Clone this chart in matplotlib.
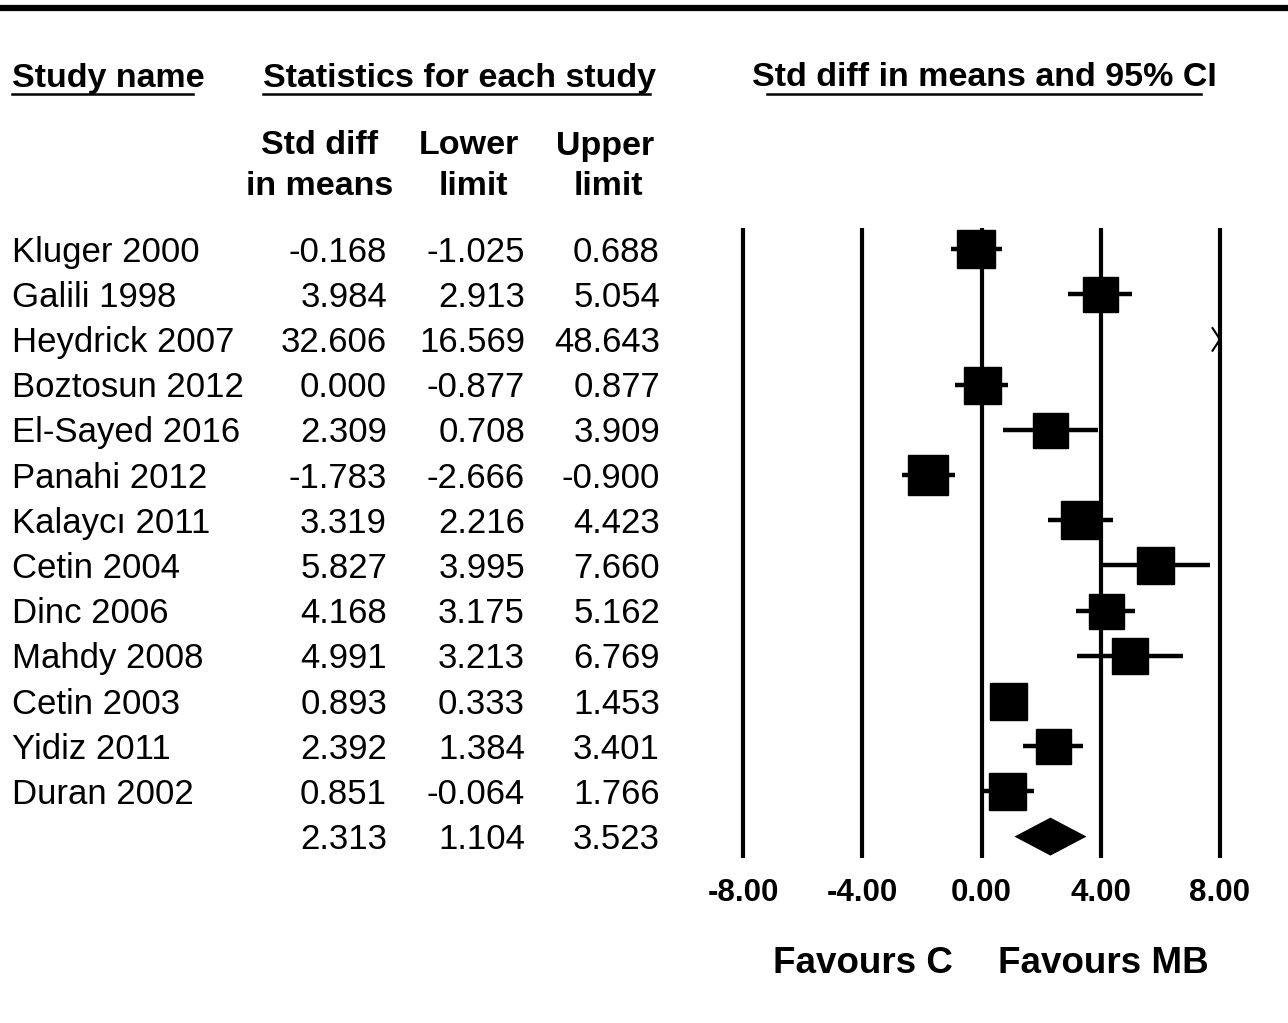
import matplotlib; matplotlib.use("Agg")
import matplotlib.pyplot as plt
import matplotlib.transforms as mtransforms
from matplotlib.lines import Line2D

plt.rcParams["font.family"] = ["Liberation Sans", "DejaVu Sans"]

studies = ["Kluger 2000", "Galili 1998", "Heydrick 2007", "Boztosun 2012", "El-Sayed 2016",
           "Panahi 2012", "Kalaycı 2011", "Cetin 2004", "Dinc 2006", "Mahdy 2008",
           "Cetin 2003", "Yidiz 2011", "Duran 2002"]
smd = [-0.168, 3.984, 32.606, 0.000, 2.309, -1.783, 3.319, 5.827, 4.168, 4.991, 0.893, 2.392, 0.851]
lower = [-1.025, 2.913, 16.569, -0.877, 0.708, -2.666, 2.216, 3.995, 3.175, 3.213, 0.333, 1.384, -0.064]
upper = [0.688, 5.054, 48.643, 0.877, 3.909, -0.900, 4.423, 7.660, 5.162, 6.769, 1.453, 3.401, 1.766]
box_px = [38, 35, 0, 37, 35, 40, 38, 37, 35, 36, 37, 35, 37]   # relative weights (square size)
pooled = (2.313, 1.104, 3.523)
ticks = [-8, -4, 0, 4, 8]

W, H = 1288, 1023
fig = plt.figure(figsize=(W / 100, H / 100), dpi=100)
ax = fig.add_axes([743 / W, 0, 477 / W, 1])
ax.set_xlim(-8, 8)
ax.set_ylim(17.124, -5.509)
ax.axis("off")
xmin, xmax = ax.get_xlim()
dy = 0.07  # nudge text down a touch (va=center includes descenders)

# vertical reference lines
for t in ticks:
    ax.plot([t, t], [-0.46, 13.47], color="k", lw=3, clip_on=False, solid_capstyle="butt")
    ax.text(t, 14.18 + dy, f"{t:.2f}", ha="center", va="center", fontsize=22.5, fontweight="bold")

# study rows
for i, (m, lo, hi, s) in enumerate(zip(smd, lower, upper, box_px)):
    if lo > xmax:
        ax.plot([xmax - 0.25, xmax, xmax - 0.25], [i - 0.25, i, i + 0.25], color="k", lw=1.5, clip_on=False)
        continue
    ax.plot([max(lo, xmin), min(hi, xmax)], [i, i], color="k", lw=3.2, solid_capstyle="butt", zorder=3)
    ax.plot([m], [i], marker="s", ms=s * 0.72, color="k", mec="k", zorder=4)

# pooled diamond
n = len(studies)
pm, pl, pu = pooled
ax.fill([pl, pm, pu, pm], [n, n - 0.42, n, n + 0.42], color="k", lw=0, zorder=4)

ax.text(-0.95, 15.73 + dy, "Favours C", ha="right", va="center", fontsize=26.5, fontweight="bold")
ax.text(0.55, 15.73 + dy, "Favours MB", ha="left", va="center", fontsize=26.5, fontweight="bold")

# table text
tr = mtransforms.blended_transform_factory(fig.transFigure, ax.transData)
fs = 25
for i, name in enumerate(studies + [""]):
    vals = (smd[i], lower[i], upper[i]) if i < n else pooled
    ax.text(12 / W, i + dy, name, transform=tr, ha="left", va="center", fontsize=fs)
    for xr, v in zip((387, 525, 660), vals):
        ax.text(xr / W, i + dy, f"{v:.3f}", transform=tr, ha="right", va="center", fontsize=fs)

# headers (pixel positions)
def ftext(x, y, s, **kw):
    fig.text(x / W, 1 - y / H, s, fontsize=24.5, fontweight="bold", va="center", **kw)

ftext(12, 78, "Study name", ha="left")
ftext(263, 78, "Statistics for each study", ha="left")
ftext(752, 78, "Std diff in means and 95% CI", ha="left")
ftext(320, 146, "Std diff", ha="center")
ftext(320, 186, "in means", ha="center")
ftext(469, 146, "Lower", ha="center")
ftext(473, 186, "limit", ha="center")
ftext(605, 146, "Upper", ha="center")
ftext(608, 186, "limit", ha="center")

for x0, x1 in [(12, 193), (263, 650), (767, 1201)]:
    fig.add_artist(Line2D([x0 / W, x1 / W], [1 - 94 / H] * 2, color="k", lw=1.8))
fig.add_artist(Line2D([0, 1], [1 - 8 / H] * 2, color="k", lw=4.5))

fig.savefig("out.png", dpi=100)
